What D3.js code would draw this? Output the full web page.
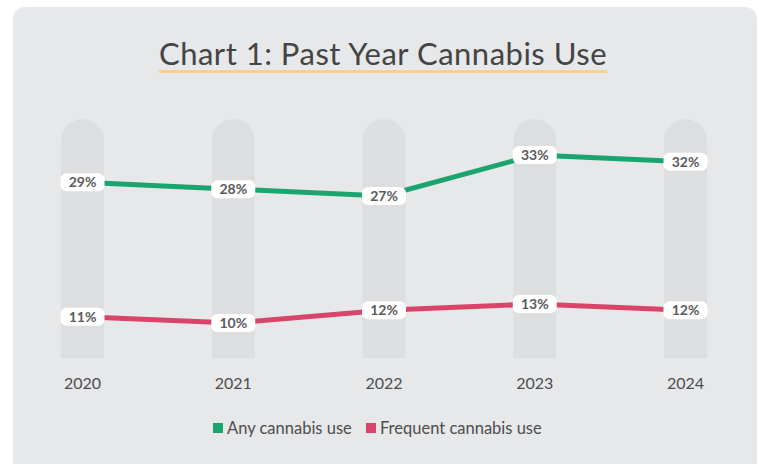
<!DOCTYPE html>
<html>
<head>
<meta charset="utf-8">
<script src="https://cdn.jsdelivr.net/npm/d3@7"></script>
<style>
  body { margin: 0; background: #fff; }
  svg { display: block; font-family: Lato, "Noto Sans", sans-serif; }
</style>
</head>
<body>
<svg id="chart" width="759" height="464"></svg>
<script>
const years = ["2020", "2021", "2022", "2023", "2024"];
const anyUse = [29, 28, 27, 33, 32];
const frequentUse = [11, 10, 12, 13, 12];
const seriesNames = ["Any cannabis use", "Frequent cannabis use"];
const seriesColors = ["#1aa570", "#d9456a"];

const svg = d3.select("#chart");

// card background
svg.append("rect")
  .attr("x", 13).attr("y", 7)
  .attr("width", 744).attr("height", 480)
  .attr("rx", 12)
  .attr("fill", "#e7e8ea");

// title
svg.append("text")
  .attr("x", 383).attr("y", 65)
  .attr("text-anchor", "middle")
  .style("font-size", "31px")
  .style("letter-spacing", "0.5px")
  .style("fill", "#444")
  .text("Chart 1: Past Year Cannabis Use");

svg.append("rect")
  .attr("x", 159).attr("y", 70)
  .attr("width", 448).attr("height", 3)
  .attr("fill", "#fed08b");

const x = d3.scalePoint().domain(years).range([82.5, 685.5]);
// the original chart's vertical spacing isn't uniform, so piecewise scale
const y = d3.scaleLinear().domain([10, 13, 27, 33]).range([323, 304, 196, 155]);

const colW = 43;

// grey columns behind each year
svg.selectAll(".col")
  .data(years)
  .enter()
  .append("path")
  .attr("class", "col")
  .attr("d", (d) => {
    let cx = x(d), r = colW / 2, top = 119, bottom = 358;
    return `M ${cx - r},${bottom} L ${cx - r},${top + r} A ${r},${r} 0 0 1 ${cx + r},${top + r} L ${cx + r},${bottom} Z`;
  })
  .attr("fill", "#dddee0");

// x axis labels
svg.selectAll(".xlab")
  .data(years)
  .enter()
  .append("text")
  .attr("class", "xlab")
  .attr("x", (d) => x(d))
  .attr("y", 389)
  .attr("text-anchor", "middle")
  .style("font-size", "16px")
  .style("fill", "#4d4d4d")
  .text((d) => d);

const series = [anyUse, frequentUse];
const line = d3.line()
  .x((d, i) => x(years[i]))
  .y((d) => y(d));

series.forEach((vals, s) => {
  svg.append("path")
    .datum(vals)
    .attr("d", line)
    .style("stroke", seriesColors[s])
    .style("stroke-width", 5)
    .style("fill", "none");
});

// value labels
series.forEach((vals, s) => {
  let g = svg.selectAll(`.lab${s}`)
    .data(vals)
    .enter()
    .append("g")
    .attr("class", `lab${s}`)
    .attr("transform", (d, i) => `translate(${x(years[i])}, ${y(d)})`);
  g.append("rect")
    .attr("x", -22).attr("y", -9)
    .attr("width", 44).attr("height", 18)
    .attr("rx", 6)
    .attr("fill", "#fff");
  g.append("text")
    .attr("text-anchor", "middle")
    .attr("dy", 5)
    .style("font-size", "14px")
    .style("font-weight", "bold")
    .style("fill", "#5a5a5a")
    .text((d) => d + "%");
});

// legend
const legendX = [213, 366];
seriesNames.forEach((name, i) => {
  svg.append("rect")
    .attr("x", legendX[i]).attr("y", 423)
    .attr("width", 10).attr("height", 10)
    .attr("fill", seriesColors[i]);
  svg.append("text")
    .attr("x", legendX[i] + 14).attr("y", 434)
    .style("font-size", "16.5px")
    .style("fill", "#4d4d4d")
    .text(name);
});
</script>
</body>
</html>
